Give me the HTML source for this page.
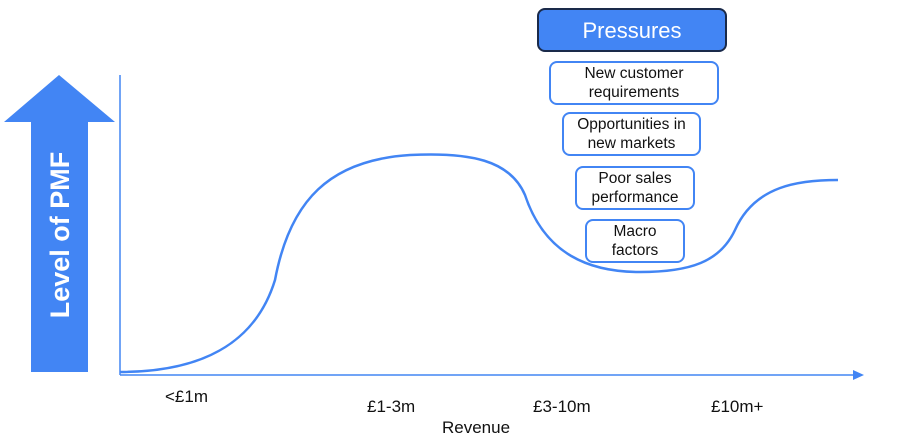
<!DOCTYPE html>
<html><head><style>
body{margin:0;width:903px;height:436px;background:#fff;position:relative;overflow:hidden;font-family:"Liberation Sans",sans-serif}
.b{position:absolute;border:2.5px solid #4285f4;border-radius:8px;background:#fff;box-sizing:border-box;display:flex;align-items:center;justify-content:center;text-align:center;font-size:15.5px;line-height:19px;color:#111}
.l{position:absolute;font-size:17px;color:#111}
</style></head><body>
<svg width="903" height="436" style="position:absolute;left:0;top:0">
<polygon points="59,75 115,122 88,122 88,372 31,372 31,122 4,122" fill="#4285f4"/>
<text x="0" y="0" transform="translate(69,235) rotate(-90)" text-anchor="middle" font-family="Liberation Sans" font-weight="bold" font-size="27" fill="#fff">Level of PMF</text>
<line x1="120" y1="75" x2="120" y2="375" stroke="#4285f4" stroke-width="1.5"/>
<line x1="120" y1="375" x2="856" y2="375" stroke="#4285f4" stroke-width="1.5"/>
<polygon points="864,375 853,370 853,380" fill="#4285f4"/>
<path d="M120,372 C200,372 255,345 275,280 C290,200 330,160 410,155 C470,152 510,160 525,195 C545,255 590,272 640,272 C690,272 720,262 735,230 C755,185 800,180 838,180" fill="none" stroke="#4285f4" stroke-width="2.5"/>
</svg>
<div class="b" style="left:537px;top:8px;width:190px;height:44px;background:#4285f4;border-color:#1a2a4a;color:#fff;font-size:22px">Pressures</div>
<div class="b" style="left:549px;top:61px;width:170px;height:44px">New customer<br>requirements</div>
<div class="b" style="left:562px;top:112px;width:139px;height:44px">Opportunities in<br>new markets</div>
<div class="b" style="left:575px;top:166px;width:120px;height:44px">Poor sales<br>performance</div>
<div class="b" style="left:585px;top:219px;width:100px;height:44px">Macro<br>factors</div>
<div class="l" style="left:165px;top:387px">&lt;£1m</div>
<div class="l" style="left:367px;top:397px">£1-3m</div>
<div class="l" style="left:533px;top:397px">£3-10m</div>
<div class="l" style="left:711px;top:397px">£10m+</div>
<div class="l" style="left:442px;top:418px">Revenue</div>
</body></html>
